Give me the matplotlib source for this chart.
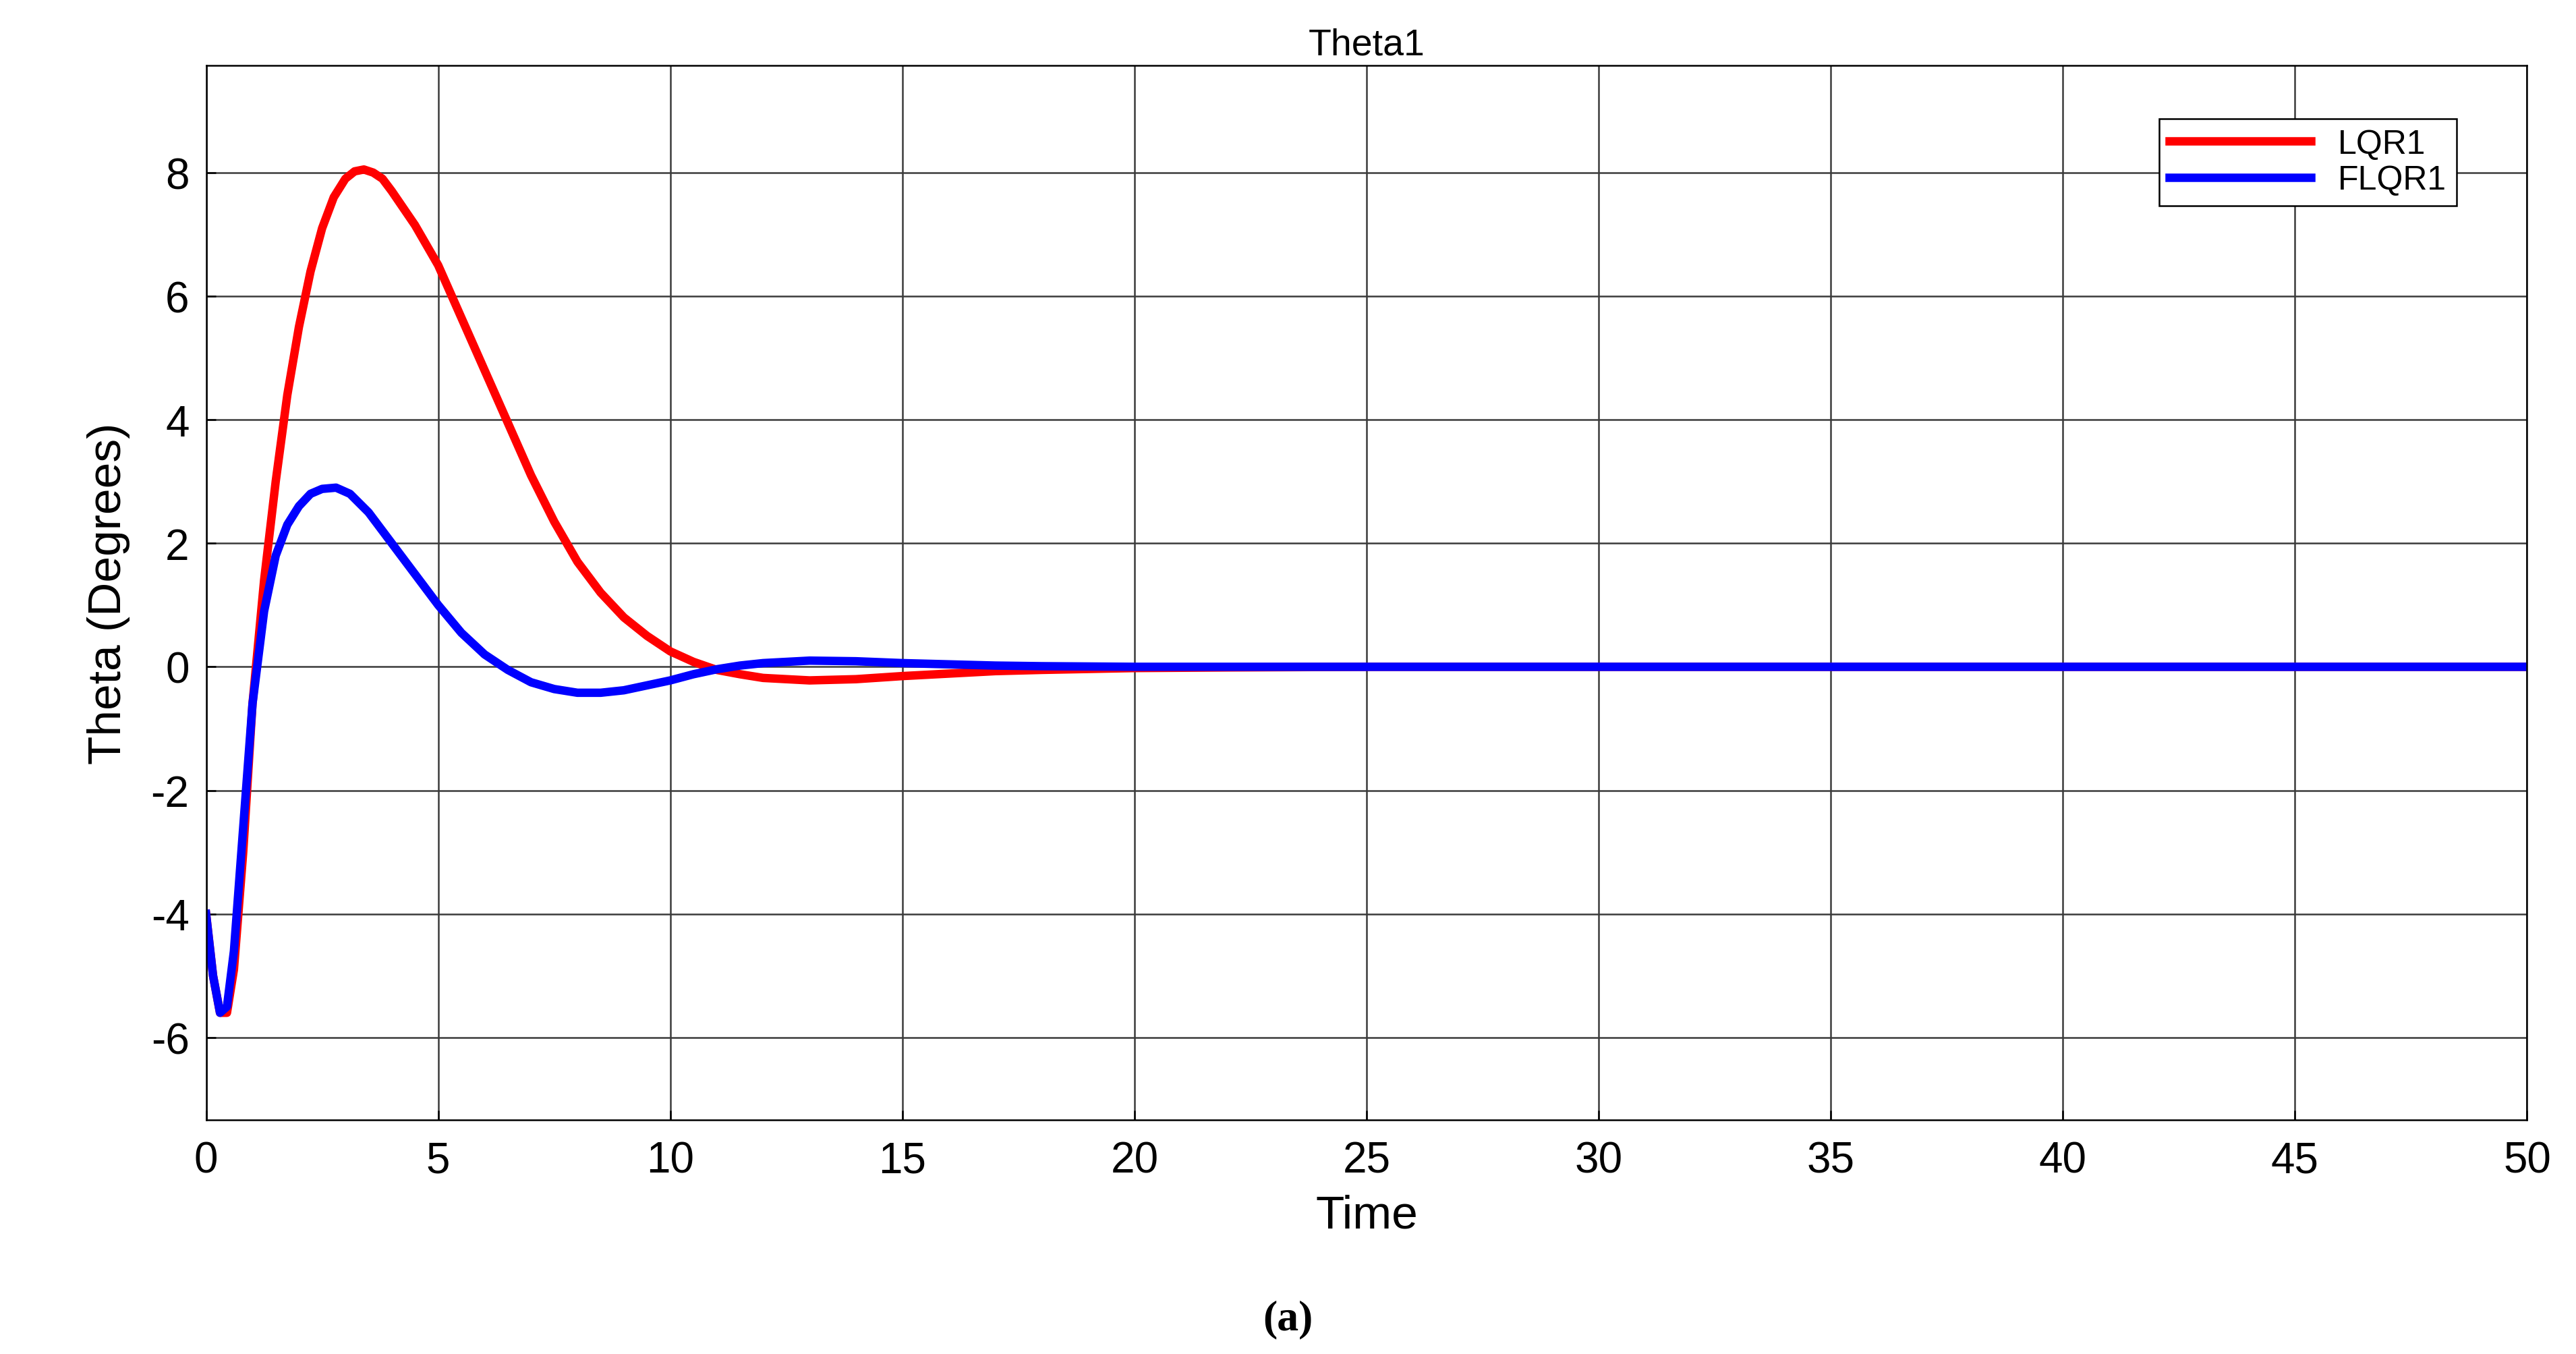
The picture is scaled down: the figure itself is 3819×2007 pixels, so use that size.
import matplotlib.pyplot as plt
import numpy as np

# values
t_lqr = [0, 0.15, 0.3, 0.45, 0.6, 0.8, 1.0, 1.25, 1.5, 1.75, 2.0, 2.25, 2.5, 2.75, 3.0, 3.2, 3.4, 3.6, 3.8, 4.0, 4.5, 5.0, 5.5, 6.0, 6.5, 7.0, 7.5, 8.0, 8.5, 9.0, 9.5, 10, 10.5, 11, 11.5, 12, 13, 14, 15, 16, 17, 18, 20, 22, 25, 30, 50]
y_lqr = [-4.0, -5.0, -5.6, -5.6, -4.9, -3.0, -0.6, 1.4, 3.0, 4.4, 5.5, 6.4, 7.1, 7.6, 7.9, 8.02, 8.05, 8.0, 7.9, 7.7, 7.15, 6.5, 5.65, 4.8, 3.95, 3.1, 2.35, 1.7, 1.2, 0.8, 0.5, 0.25, 0.08, -0.05, -0.12, -0.18, -0.22, -0.2, -0.15, -0.11, -0.07, -0.05, -0.02, -0.01, 0.0, 0.0, 0.0]

t_flqr = [0, 0.15, 0.3, 0.45, 0.6, 0.8, 1.0, 1.25, 1.5, 1.75, 2.0, 2.25, 2.5, 2.8, 3.1, 3.5, 4.0, 4.5, 5.0, 5.5, 6.0, 6.5, 7.0, 7.5, 8.0, 8.5, 9.0, 9.5, 10, 10.5, 11, 11.5, 12, 13, 14, 15, 16, 17, 18, 20, 22, 25, 50]
y_flqr = [-4.0, -5.0, -5.6, -5.5, -4.6, -2.6, -0.6, 0.9, 1.8, 2.3, 2.6, 2.8, 2.88, 2.9, 2.8, 2.5, 2.0, 1.5, 1.0, 0.55, 0.2, -0.05, -0.25, -0.36, -0.42, -0.42, -0.38, -0.3, -0.22, -0.12, -0.04, 0.02, 0.06, 0.1, 0.09, 0.06, 0.04, 0.02, 0.01, 0.0, 0.0, 0.0, 0.0]

x_ticks = np.arange(0, 51, 5)
y_ticks = np.arange(-6, 9, 2)

plt.rcParams.update({'font.family': 'Liberation Sans', 'font.size': 46,
                     'axes.unicode_minus': False})

fig = plt.figure(figsize=(38.19, 20.08), dpi=100)
ax = fig.add_axes([0.080, 0.173, 0.901, 0.778])

ax.plot(t_lqr, y_lqr, color='#ff0000', linewidth=9, label='LQR1')
ax.plot(t_flqr, y_flqr, color='#0000ff', linewidth=9, label='FLQR1')

ax.set_xlim(0, 50)
ax.set_ylim(-7.33, 9.73)
ax.set_xticks(x_ticks)
ax.set_yticks(y_ticks)
ax.grid(True, color='#3a3a3a', linewidth=1.8)
ax.tick_params(direction='in', length=10, width=1.8)
ax.tick_params(axis='x', pad=22)
ax.tick_params(axis='y', pad=18)
for s in ax.spines.values():
    s.set_linewidth(1.8)

ax.set_title('Theta1', fontsize=40, pad=12)
ax.set_xlabel('Time', fontsize=50, labelpad=14)
ax.set_ylabel('Theta (Degrees)', fontsize=50, labelpad=22)

leg = ax.legend(loc='upper right', bbox_to_anchor=(0.977, 0.966), fontsize=36,
                fancybox=False, edgecolor='black', framealpha=1,
                handlelength=4.2, borderpad=0.3, labelspacing=0.15)
leg.get_frame().set_linewidth(1.8)

fig.text(0.5, 0.018, '(a)', ha='center', fontsize=46, family='Liberation Serif', weight='bold')

plt.savefig('out.png', dpi=100)
